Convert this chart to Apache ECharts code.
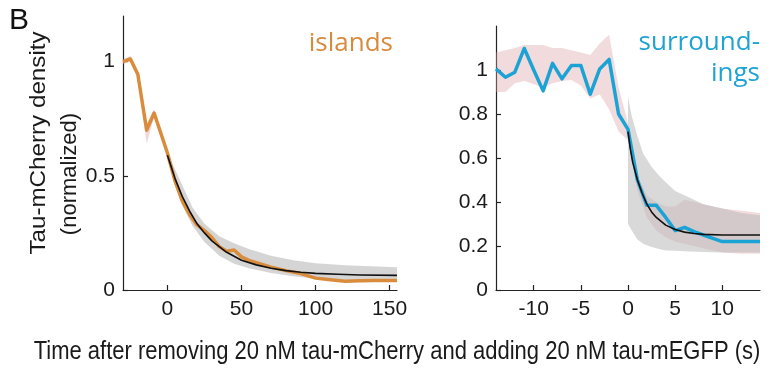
<!DOCTYPE html>
<html><head><meta charset="utf-8">
<script src="https://cdn.jsdelivr.net/npm/echarts@6/dist/echarts.min.js"></script>
<style>html,body{margin:0;padding:0;background:#fff}#c{width:771px;height:371px}</style>
</head><body><div id="c"></div>
<script>
// ---------- Left panel: islands ----------
const islandT   = [-30, -25, -20, -14, -9, 0, 5, 10, 15, 20, 25, 30, 35, 40, 45, 50, 55, 60, 70, 80, 90, 95, 100, 110, 120, 130, 140, 155];
const islandV   = [1.0, 1.012, 0.945, 0.70, 0.775, 0.60, 0.48, 0.39, 0.33, 0.285, 0.26, 0.23, 0.19, 0.17, 0.175, 0.145, 0.13, 0.12, 0.10, 0.085, 0.072, 0.062, 0.052, 0.045, 0.038, 0.04, 0.042, 0.042];
const islandErrT  = [-30, -25, -20, -14, -9, 0];
const islandErrLo = [0.99, 1.0, 0.93, 0.64, 0.76, 0.585];
const islandErrHi = [1.01, 1.025, 0.955, 0.73, 0.79, 0.61];
const islandFitT  = [0, 5, 10, 15, 20, 25, 30, 40, 50, 60, 70, 80, 90, 100, 115, 130, 155];
const islandFitV  = [0.59, 0.49, 0.41, 0.345, 0.29, 0.25, 0.215, 0.165, 0.13, 0.11, 0.095, 0.085, 0.078, 0.073, 0.069, 0.066, 0.064];
const islandCiT   = [0, 5, 10, 17, 25, 35, 45, 55, 70, 85, 100, 120, 155];
const islandCiLo  = [0.575, 0.46, 0.37, 0.28, 0.21, 0.15, 0.115, 0.095, 0.075, 0.06, 0.05, 0.042, 0.036];
const islandCiHi  = [0.60, 0.53, 0.46, 0.36, 0.29, 0.235, 0.205, 0.18, 0.15, 0.13, 0.117, 0.108, 0.10];

// ---------- Right panel: surroundings ----------
const surT   = [-14, -13, -12, -11, -10, -9, -8, -7, -6, -5, -4, -3, -2, -1, 0, 1, 2, 3, 4, 5, 6, 7, 8, 9, 10, 11, 12, 13, 14];
const surV   = [1.005, 0.967, 0.99, 1.098, 1.0, 0.905, 1.03, 0.96, 1.02, 1.02, 0.89, 1.005, 1.048, 0.80, 0.73, 0.50, 0.385, 0.385, 0.33, 0.27, 0.285, 0.265, 0.25, 0.235, 0.22, 0.22, 0.22, 0.22, 0.22];
const surErrT  = [-14, -13, -12, -11, -10, -9, -8, -7, -6, -5, -4, -3, -2, -1, 0, 1, 2, 3, 4, 5, 6, 8, 10, 12, 14];
const surErrLo = [0.90, 0.90, 0.94, 0.95, 0.935, 0.92, 0.94, 0.95, 0.955, 0.93, 0.87, 0.89, 0.82, 0.72, 0.68, 0.45, 0.33, 0.27, 0.24, 0.22, 0.21, 0.19, 0.17, 0.165, 0.165];
const surErrHi = [1.08, 1.09, 1.10, 1.114, 1.114, 1.114, 1.10, 1.10, 1.09, 1.08, 1.068, 1.12, 1.16, 0.92, 0.76, 0.52, 0.43, 0.40, 0.38, 0.38, 0.41, 0.39, 0.37, 0.36, 0.35];
const surFitT  = [0, 0.25, 0.5, 1, 1.5, 2, 2.5, 3, 4, 5, 6, 7, 8, 10, 14];
const surFitV  = [0.72, 0.64, 0.58, 0.50, 0.44, 0.39, 0.355, 0.33, 0.295, 0.275, 0.263, 0.257, 0.253, 0.25, 0.25];
const surCiT   = [0, 0.4, 1, 1.6, 2.5, 3.4, 4, 5, 6.5, 8, 10, 12, 14];
const surCiLo  = [0.30, 0.27, 0.23, 0.21, 0.195, 0.185, 0.18, 0.178, 0.175, 0.173, 0.171, 0.17, 0.17];
const surCiHi  = [0.88, 0.79, 0.70, 0.62, 0.56, 0.515, 0.49, 0.45, 0.42, 0.39, 0.37, 0.35, 0.34];

// ---------- Ticks ----------
const leftXTicks  = [0, 50, 100, 150];
const leftYTicks  = [0, 0.5, 1];
const rightXTicks = [-10, -5, 0, 5, 10];
const rightYTicks = [0, 0.2, 0.4, 0.6, 0.8, 1];

const FONT = 'Liberation Sans';
const zip = (a, b) => a.map((v, i) => [v, b[i]]);
const band = (t, lo, hi) => t.map((v, i) => [v, lo[i], hi[i]]);

function bandSeries(idx, t, lo, hi, color, z) {
  const pts = band(t, lo, hi);
  return {
    type: 'custom', xAxisIndex: idx, yAxisIndex: idx, z: z, silent: true,
    data: pts, encode: { x: 0, y: [1, 2] },
    renderItem: function (params, api) {
      if (params.dataIndex !== 0) return null;
      const upper = pts.map(p => api.coord([p[0], p[2]]));
      const lower = pts.slice().reverse().map(p => api.coord([p[0], p[1]]));
      return { type: 'polygon', shape: { points: upper.concat(lower) }, style: { fill: color } };
    }
  };
}
function lineSeries(idx, t, v, color, width, z) {
  return { type: 'line', xAxisIndex: idx, yAxisIndex: idx, data: zip(t, v), showSymbol: false, symbol: 'none',
    lineStyle: { color: color, width: width, join: 'round' }, z: z, silent: true, animation: false };
}
function axisCommon() {
  return {
    axisLine: { show: true, onZero: false, lineStyle: { color: '#222', width: 1.2 } },
    axisTick: { show: true, inside: true, length: 5, lineStyle: { color: '#222', width: 1.2 } },
    splitLine: { show: false },
    axisLabel: { color: '#1a1a1a', fontSize: 21, fontFamily: FONT }
  };
}
function xAxis(idx, min, max, ticks, margin) {
  const a = axisCommon();
  a.type = 'value'; a.gridIndex = idx; a.min = min; a.max = max;
  a.axisTick.customValues = ticks;
  a.axisLabel.customValues = ticks; a.axisLabel.margin = margin;
  a.axisLabel.formatter = v => String(v);
  return a;
}
function yAxis(idx, ticks, margin) {
  const a = axisCommon();
  a.type = 'value'; a.gridIndex = idx; a.min = 0; a.max = 1.2;
  a.axisTick.customValues = ticks;
  a.axisLabel.customValues = ticks; a.axisLabel.margin = margin;
  a.axisLabel.formatter = v => String(v);
  return a;
}

const chart = echarts.init(document.getElementById('c'), null, { renderer: 'canvas' });
chart.setOption({
  animation: false,
  grid: [
    { left: 123, top: 16, width: 274, height: 274 },
    { left: 496, top: 26, width: 264, height: 264 }
  ],
  xAxis: [xAxis(0, -30, 155, leftXTicks, 9), xAxis(1, -14, 14, rightXTicks, 9)],
  yAxis: [yAxis(0, leftYTicks, 8), yAxis(1, rightYTicks, 8)],
  graphic: [
    { type: 'text', left: 9, top: 6, style: { text: 'B', font: '30px "Liberation Sans"', fill: '#111' } },
    { type: 'text', x: 39, y: 143, rotation: Math.PI / 2, scaleX: 1.1, style: { text: 'Tau-mCherry density', font: '22px "Liberation Sans"', fill: '#1a1a1a', align: 'center', verticalAlign: 'middle' } },
    { type: 'text', x: 70, y: 174, rotation: Math.PI / 2, scaleX: 1.0, style: { text: '(normalized)', font: '22px "Liberation Sans"', fill: '#1a1a1a', align: 'center', verticalAlign: 'middle' } },
    { type: 'text', x: 397, y: 352, scaleY: 1.15, style: { text: 'Time after removing 20 nM tau-mCherry and adding 20 nM tau-mEGFP (s)', font: '22px "Liberation Sans"', fill: '#1a1a1a', align: 'center', verticalAlign: 'middle' } },
    { type: 'text', x: 393, y: 44, style: { text: 'islands', font: '26px "Open Sans"', fill: '#D88B3C', align: 'right', verticalAlign: 'middle' } },
    { type: 'text', x: 760, y: 43, style: { text: 'surround-', font: '26px "Open Sans"', fill: '#1FA2D4', align: 'right', verticalAlign: 'middle' } },
    { type: 'text', x: 760, y: 74, style: { text: 'ings', font: '26px "Open Sans"', fill: '#1FA2D4', align: 'right', verticalAlign: 'middle' } }
  ],
  series: [
    bandSeries(0, islandCiT, islandCiLo, islandCiHi, 'rgba(190,190,190,0.65)', 1),
    bandSeries(0, islandErrT, islandErrLo, islandErrHi, 'rgba(226,150,160,0.4)', 2),
    lineSeries(0, islandT, islandV, '#D98D3C', 3.5, 3),
    lineSeries(0, islandFitT, islandFitV, '#111', 1.6, 4),
    bandSeries(1, surErrT, surErrLo, surErrHi, 'rgba(222,160,165,0.38)', 1),
    bandSeries(1, surCiT, surCiLo, surCiHi, 'rgba(185,185,185,0.55)', 2),
    lineSeries(1, surT, surV, '#1CA3D6', 3.5, 3),
    lineSeries(1, surFitT, surFitV, '#111', 1.6, 4)
  ]
});
</script></body></html>
